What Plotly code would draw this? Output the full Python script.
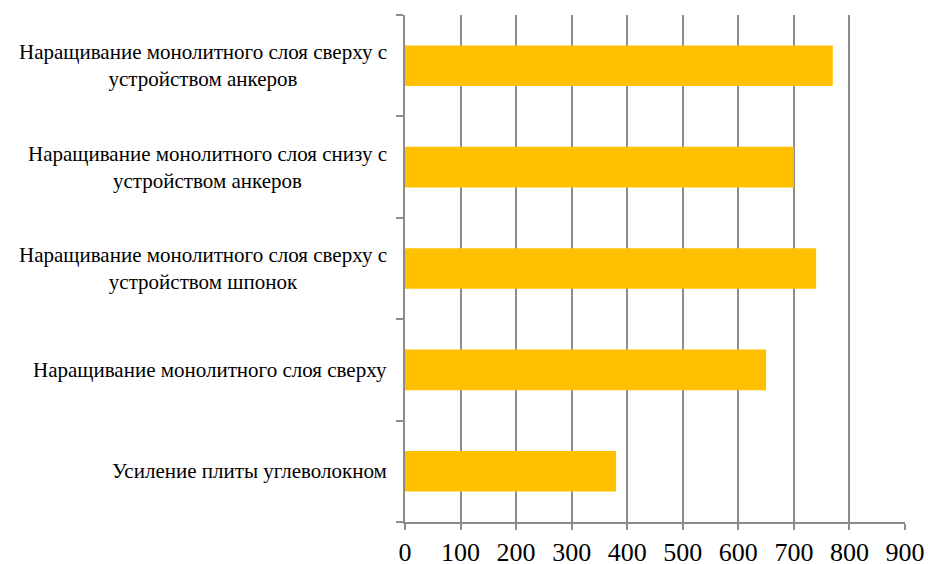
import plotly.graph_objects as go

# Categories listed bottom-to-top, as they stack on the horizontal bar chart
categories = [
    "Усиление плиты углеволокном",
    "Наращивание монолитного слоя сверху",
    "Наращивание монолитного слоя сверху с<br>устройством шпонок",
    "Наращивание монолитного слоя снизу с<br>устройством анкеров",
    "Наращивание монолитного слоя сверху с<br>устройством анкеров",
]
values = [380, 650, 740, 700, 770]
x_ticks = [0, 100, 200, 300, 400, 500, 600, 700, 800, 900]

BAR_COLOR = "#FFC000"
GRID_COLOR = "#8C8C8C"
FONT = "Liberation Serif"

fig = go.Figure(
    go.Bar(
        y=categories,
        x=values,
        orientation="h",
        marker=dict(color=BAR_COLOR, line=dict(width=0)),
        width=0.4,
        hoverinfo="x+y",
    )
)

# Category labels: centred multi-line text to the left of the axis
for cat in categories:
    fig.add_annotation(
        x=0, xref="paper", y=cat, yref="y",
        text=cat, showarrow=False,
        xanchor="right", yanchor="middle", align="center",
        xshift=-16,
        font=dict(family=FONT, size=21, color="#000000"),
    )

fig.update_layout(
    width=928, height=564,
    margin=dict(l=405, r=23, t=15, b=42, autoexpand=False),
    paper_bgcolor="white",
    plot_bgcolor="white",
    showlegend=False,
    font=dict(family=FONT, color="#000000"),
    xaxis=dict(
        range=[0, 900],
        tickvals=x_ticks,
        ticktext=[str(v) for v in x_ticks],
        showgrid=True, gridcolor=GRID_COLOR, gridwidth=2,
        showline=True, linecolor=GRID_COLOR, linewidth=2,
        ticks="outside", ticklen=6, tickwidth=2, tickcolor=GRID_COLOR,
        tickfont=dict(family=FONT, size=26, color="#000000"),
        zeroline=False,
        automargin=False,
        fixedrange=True,
    ),
    yaxis=dict(
        type="category",
        categoryorder="array", categoryarray=categories,
        showticklabels=False,
        tickson="boundaries",
        ticks="outside", ticklen=7, tickwidth=2, tickcolor=GRID_COLOR,
        showgrid=False,
        showline=True, linecolor=GRID_COLOR, linewidth=2,
        zeroline=False,
        automargin=False,
        fixedrange=True,
    ),
)

fig.write_html("out.html")
